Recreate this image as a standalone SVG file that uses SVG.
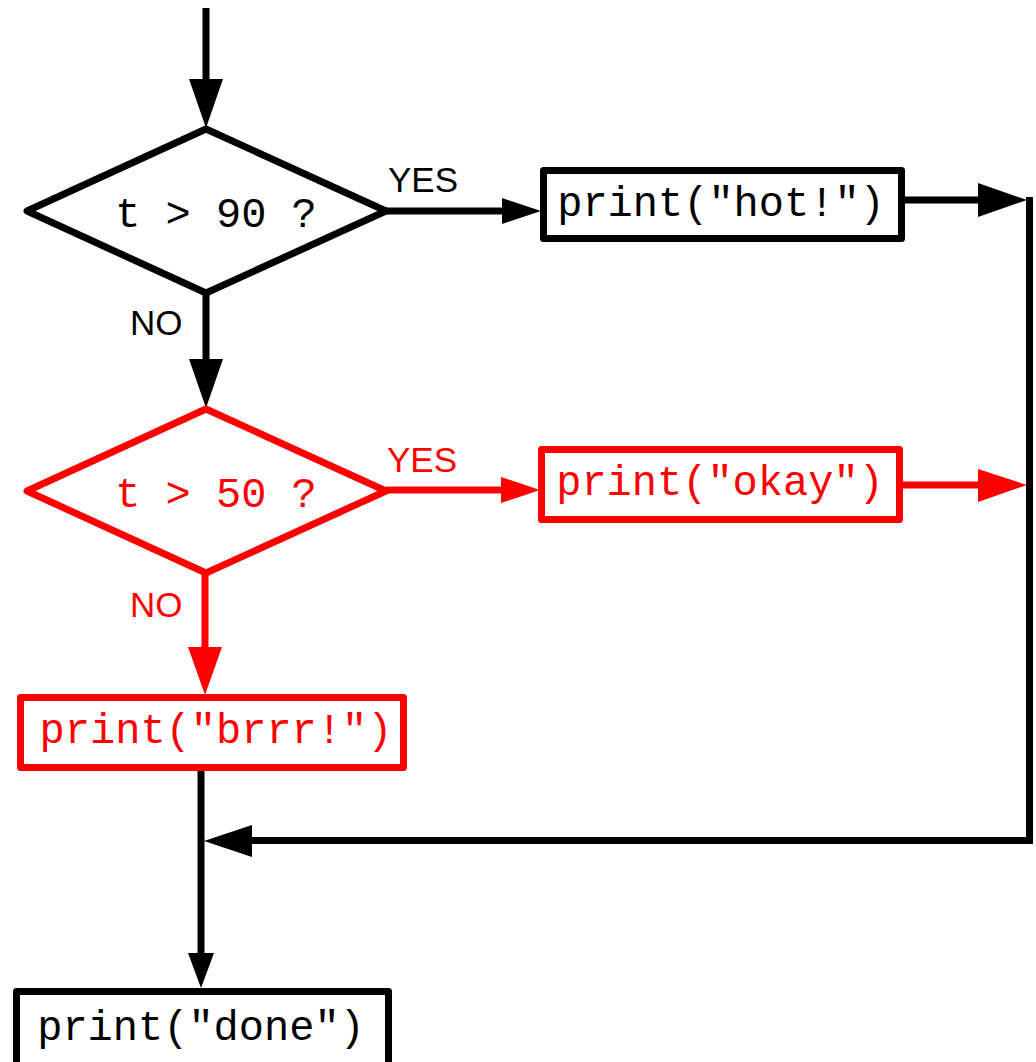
<svg xmlns="http://www.w3.org/2000/svg" width="1036" height="1062" viewBox="0 0 1036 1062">
<style>
.k{stroke:#000;fill:none;stroke-width:7}
.r{stroke:#f00;fill:none;stroke-width:7}
.kh{fill:#000;stroke:none}
.rh{fill:#f00;stroke:none}
.box{fill:#fff;stroke-width:7;stroke-linejoin:round}
.code{font-family:"Liberation Mono","Courier New",monospace;font-size:42px;text-anchor:middle}
.lbl{font-family:"Liberation Sans",Arial,sans-serif;font-size:35px}
</style>
<rect width="1036" height="1062" fill="#fff"/>
<g id="connectors">
  <line class="k" x1="206" y1="8" x2="206" y2="86"/>
  <polygon class="kh" points="189,79 223,79 206,128"/>
  <line class="k" x1="386" y1="211" x2="508" y2="211"/>
  <polygon class="kh" points="502,198 502,224 541,211"/>
  <line class="k" x1="905" y1="200" x2="985" y2="200"/>
  <polygon class="kh" points="978,183 978,217 1027,200"/>
  <polyline class="k" points="1029.5,197 1029.5,840.5 245,840.5" stroke-linejoin="miter"/>
  <polygon class="kh" points="252,825 252,857 204,841"/>
  <line class="k" x1="206" y1="293" x2="206" y2="366"/>
  <polygon class="kh" points="189,359 223,359 206,408"/>
  <line class="r" x1="386" y1="490" x2="508" y2="490"/>
  <polygon class="rh" points="501,477 501,503 540,490"/>
  <line class="r" x1="903" y1="485" x2="985" y2="485"/>
  <polygon class="rh" points="978,469 978,502 1027,485"/>
  <line class="r" x1="205" y1="573" x2="205" y2="654"/>
  <polygon class="rh" points="188,647 222,647 205,695"/>
  <line class="k" x1="201" y1="771" x2="201" y2="960"/>
  <polygon class="kh" points="188,953 214,953 201,988"/>
  <text class="lbl" x="388" y="192" fill="#000">YES</text>
  <text class="lbl" x="130" y="335" fill="#000">NO</text>
  <text class="lbl" x="387" y="472" fill="#f00">YES</text>
  <text class="lbl" x="130" y="617" fill="#f00">NO</text>
</g>
<g id="decision1">
  <polygon class="box" stroke="#000" points="206,129 386,211 206,293 27,211"/>
  <text class="code" x="216" y="227" fill="#000">t &gt; 90 ?</text>
</g>
<g id="hot">
  <rect class="box" stroke="#000" x="543.5" y="170.5" width="358" height="68"/>
  <text class="code" x="721" y="216" fill="#000">print("hot!")</text>
</g>
<g id="decision2">
  <polygon class="box" stroke="#f00" points="206,409 386,491 206,573 27,491"/>
  <text class="code" x="216" y="507" fill="#f00">t &gt; 50 ?</text>
</g>
<g id="okay">
  <rect class="box" stroke="#f00" x="541.5" y="449.5" width="358" height="70"/>
  <text class="code" x="720" y="495" fill="#f00">print("okay")</text>
</g>
<g id="brrr">
  <rect class="box" stroke="#f00" x="20.5" y="697.5" width="383" height="70"/>
  <text class="code" x="216" y="743" fill="#f00">print("brrr!")</text>
</g>
<g id="done">
  <rect class="box" stroke="#000" x="16.5" y="991.5" width="372" height="78"/>
  <text class="code" x="201" y="1040" fill="#000">print("done")</text>
</g>
</svg>
